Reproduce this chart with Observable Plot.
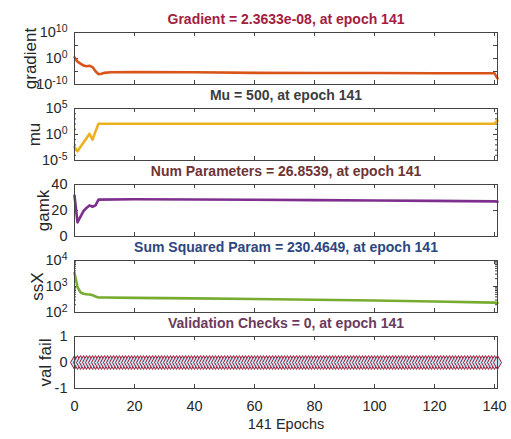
<!DOCTYPE html>
<html>
<head>
<meta charset="utf-8">
<script src="https://cdn.jsdelivr.net/npm/d3@7"></script>
<script src="https://cdn.jsdelivr.net/npm/@observablehq/plot@0.6"></script>
<style>
  html, body { margin: 0; padding: 0; background: #fff; }
  #chart { width: 511px; height: 439px; padding-top: 8px; box-sizing: border-box; }
  #chart svg { display: block; }
</style>
</head>
<body>
<div id="chart"></div>
<script>
// Training state of a Bayesian-regularization run, 141 epochs.
const xTicks = [0, 20, 40, 60, 80, 100, 120, 140];
const xLabel = "141 Epochs";

// gradient
const gradEpochs = [0, 1, 2, 3, 4, 5, 6, 7, 8, 9, 10, 12, 20, 40, 60, 80, 100, 120, 140, 141];
const gradient = [3, 6e-2, 1e-2, 2e-3, 1e-3, 1.6e-3, 5e-4, 1.3e-5, 1e-6, 1.3e-6, 3e-6, 5e-6, 6e-6, 5e-6, 3e-6, 2.5e-6, 2.5e-6, 2e-6, 2e-6, 2.3633e-8];

// mu
const muEpochs = [0, 1, 2, 3, 4, 5, 6, 7, 8, 140, 141];
const mu = [0.004, 0.0006, 0.0045, 0.03, 0.2, 1.35, 0.1, 4, 120, 120, 500];

// effective number of parameters
const gamkEpochs = [0, 1, 2, 3, 4, 5, 6, 7, 8, 20, 40, 60, 80, 100, 120, 140, 141];
const gamk = [31.5, 10.8, 15.3, 19.6, 22, 23.9, 22.9, 24, 28.4, 28.6, 28.5, 28.3, 28.0, 27.7, 27.4, 27.0, 26.8539];

// sum squared parameters
const ssxEpochs = [0, 1, 2, 3, 4, 5, 6, 7, 8, 10, 20, 40, 60, 80, 100, 120, 140, 141];
const ssX = [3300, 950, 590, 525, 500, 490, 465, 414, 380, 375, 365, 350, 330, 310, 290, 265, 240, 230.4649];

// validation failures, one per epoch
const valEpochs = [0,1,2,3,4,5,6,7,8,9,10,11,12,13,14,15,16,17,18,19,20,21,22,23,24,25,26,27,28,29,30,31,32,33,34,35,36,37,38,39,40,41,42,43,44,45,46,47,48,49,50,51,52,53,54,55,56,57,58,59,60,61,62,63,64,65,66,67,68,69,70,71,72,73,74,75,76,77,78,79,80,81,82,83,84,85,86,87,88,89,90,91,92,93,94,95,96,97,98,99,100,101,102,103,104,105,106,107,108,109,110,111,112,113,114,115,116,117,118,119,120,121,122,123,124,125,126,127,128,129,130,131,132,133,134,135,136,137,138,139,140,141];
const valFail = [0,0,0,0,0,0,0,0,0,0,0,0,0,0,0,0,0,0,0,0,0,0,0,0,0,0,0,0,0,0,0,0,0,0,0,0,0,0,0,0,0,0,0,0,0,0,0,0,0,0,0,0,0,0,0,0,0,0,0,0,0,0,0,0,0,0,0,0,0,0,0,0,0,0,0,0,0,0,0,0,0,0,0,0,0,0,0,0,0,0,0,0,0,0,0,0,0,0,0,0,0,0,0,0,0,0,0,0,0,0,0,0,0,0,0,0,0,0,0,0,0,0,0,0,0,0,0,0,0,0,0,0,0,0,0,0,0,0,0,0,0,0];

// panel titles and y labels
const titles = [
  "Gradient = 2.3633e-08, at epoch 141",
  "Mu = 500, at epoch 141",
  "Num Parameters = 26.8539, at epoch 141",
  "Sum Squared Param = 230.4649, at epoch 141",
  "Validation Checks = 0, at epoch 141"
];
const yLabels = ["gradient", "mu", "gamk", "ssX", "val fail"];

const W = 511, ML = 74, MR = 14, MT = 24, PH = 52;
const innerW = W - ML - MR;
const axisColor = "#444";
const textColor = "#262626";
const font = "'Liberation Sans', Arial, Helvetica, sans-serif";

// powers of ten written as "10^k"; the exponent is raised into a tspan afterwards
const pow10 = d => "10^" + Math.round(Math.log10(d));

function raiseExponents(svg) {
  const ns = "http://www.w3.org/2000/svg";
  svg.querySelectorAll("text").forEach(t => {
    const m = /^10\^(-?\d+)$/.exec(t.textContent);
    if (!m) return;
    t.textContent = "10";
    const sup = document.createElementNS(ns, "tspan");
    sup.setAttribute("dy", "-0.45em");
    sup.setAttribute("font-size", "10.5");
    sup.textContent = m[1];
    t.appendChild(sup);
  });
  return svg;
}

function panel(cfg) {
  const last = !!cfg.bottom;
  const marks = [
    // inward ticks on all four sides
    Plot.tickX(xTicks, {x: d => d, insetTop: PH - 4, stroke: axisColor}),
    Plot.tickX(xTicks, {x: d => d, insetBottom: PH - 4, stroke: axisColor}),
    Plot.tickY(cfg.yTicks, {y: d => d, insetRight: innerW - 4, stroke: axisColor}),
    Plot.tickY(cfg.yTicks, {y: d => d, insetLeft: innerW - 4, stroke: axisColor}),
    Plot.tickY(cfg.yMinor || [], {y: d => d, insetRight: innerW - 2, stroke: axisColor}),
    Plot.tickY(cfg.yMinor || [], {y: d => d, insetLeft: innerW - 2, stroke: axisColor}),
    Plot.axisY(cfg.yTickLabels, {tickSize: 0, tickPadding: 7, tickFormat: cfg.fmt, fontSize: 14.5, fill: textColor, label: null}),
    ...cfg.marks,
    Plot.frame({stroke: axisColor, strokeWidth: 1}),
    Plot.text([cfg.title], {text: d => d, frameAnchor: "top", dy: -9, lineAnchor: "bottom", fontWeight: "bold", fontSize: 14, fill: cfg.titleColor}),
    Plot.text([cfg.ylabel], {text: d => d, frameAnchor: "left", textAnchor: "middle", dx: cfg.labelDx, rotate: -90, fontSize: 17, fill: textColor})
  ];
  if (last) {
    marks.push(
      Plot.axisX(xTicks, {tickSize: 0, tickPadding: 12, fontSize: 14.5, fill: textColor, label: null}),
      Plot.text([xLabel], {text: d => d, frameAnchor: "bottom", dy: 40, fontSize: 14.5, fill: textColor})
    );
  }
  return raiseExponents(Plot.plot({
    width: W,
    height: last ? 126 : 76,
    marginLeft: ML,
    marginRight: MR,
    marginTop: MT,
    marginBottom: last ? 50 : 0,
    x: last ? {domain: [0, 141]} : {domain: [0, 141], axis: null},
    y: cfg.y,
    style: {fontFamily: font, background: "transparent", overflow: "visible", color: textColor},
    marks
  }));
}

const decades = (a, b) => { const out = []; for (let k = a; k <= b; k++) out.push(Math.pow(10, k)); return out; };
const ssxMinor = [];
[100, 1000].forEach(base => [2,3,4,5,6,7,8,9].forEach(m => ssxMinor.push(base * m)));

const panels = [
  panel({
    title: titles[0], titleColor: "#a3203f", ylabel: yLabels[0], labelDx: -44,
    y: {type: "log", domain: [1e-10, 1e10]},
    yTicks: [1e-10, 1e-5, 1, 1e5, 1e10], yTickLabels: [1e-10, 1, 1e10], fmt: pow10,
    marks: [Plot.line(gradEpochs, {x: gradEpochs, y: gradient, stroke: "#d9541a", strokeWidth: 2.6})]
  }),
  panel({
    title: titles[1], titleColor: "#3d3d3d", ylabel: yLabels[1], labelDx: -40,
    y: {type: "log", domain: [1e-5, 1e5]},
    yTicks: [1e-5, 1, 1e5], yMinor: decades(-4, 4), yTickLabels: [1e-5, 1, 1e5], fmt: pow10,
    marks: [Plot.line(muEpochs, {x: muEpochs, y: mu, stroke: "#edb120", strokeWidth: 2.6})]
  }),
  panel({
    title: titles[2], titleColor: "#6e3434", ylabel: yLabels[2], labelDx: -31,
    y: {domain: [0, 40]},
    yTicks: [0, 20, 40], yTickLabels: [0, 20, 40], fmt: d => String(d),
    marks: [Plot.line(gamkEpochs, {x: gamkEpochs, y: gamk, stroke: "#7e2f8e", strokeWidth: 2.6})]
  }),
  panel({
    title: titles[3], titleColor: "#2c4680", ylabel: yLabels[3], labelDx: -37,
    y: {type: "log", domain: [1e2, 1e4]},
    yTicks: [1e2, 1e3, 1e4], yMinor: ssxMinor, yTickLabels: [1e2, 1e3, 1e4], fmt: pow10,
    marks: [Plot.line(ssxEpochs, {x: ssxEpochs, y: ssX, stroke: "#77ac30", strokeWidth: 2.6})]
  }),
  panel({
    title: titles[4], titleColor: "#6b3a5c", ylabel: yLabels[4], labelDx: -29, bottom: true,
    y: {domain: [-1, 1]},
    yTicks: [-1, 0, 1], yTickLabels: [-1, 0, 1], fmt: d => String(d),
    marks: [Plot.dot(valEpochs, {x: valEpochs, y: valFail, symbol: "diamond", r: 4.2, stroke: "#a2142f", fill: "#c4e6f5", strokeWidth: 1})]
  })
];

const chart = document.getElementById("chart");
panels.forEach(p => chart.appendChild(p));
</script>
</body>
</html>
